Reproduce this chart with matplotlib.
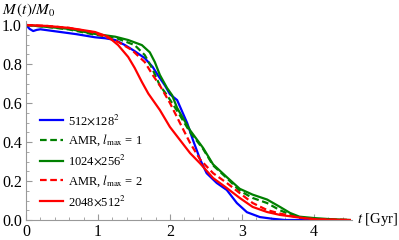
import matplotlib
matplotlib.use("Agg")
import matplotlib.pyplot as plt
import numpy as np

plt.rcParams['font.family'] = ['Liberation Serif', 'DejaVu Serif']
plt.rcParams['mathtext.fontset'] = 'stix'

# mass fraction M(t)/M0 vs time in Gyr
t_512 = [0, 0.05, 0.1, 0.15, 0.2, 0.3, 0.5, 0.7, 0.96, 1.1, 1.24, 1.375, 1.51,
         1.65, 1.76, 1.83, 1.93, 2.0, 2.1, 2.24, 2.32, 2.36, 2.42, 2.51, 2.65,
         2.79, 2.93, 3.07, 3.25, 3.43, 3.6, 4.0]
m_512 = [1.0, 0.98, 0.969, 0.975, 0.978, 0.973, 0.963, 0.953, 0.937, 0.932,
         0.923, 0.897, 0.866, 0.83, 0.785, 0.744, 0.69, 0.645, 0.615, 0.497,
         0.41, 0.37, 0.31, 0.24, 0.19, 0.154, 0.087, 0.04, 0.015, 0.006, 0.0, 0.0]

t_1024 = [0, 0.3, 0.6, 0.96, 1.24, 1.42, 1.61, 1.72, 1.79, 1.86, 1.96, 2.03,
          2.1, 2.28, 2.46, 2.6, 2.79, 2.97, 3.15, 3.35, 3.53, 3.67, 3.8, 4.0,
          4.2, 4.5]
m_1024 = [1.0, 0.99, 0.98, 0.954, 0.94, 0.923, 0.897, 0.86, 0.81, 0.744, 0.677,
          0.64, 0.575, 0.46, 0.37, 0.285, 0.22, 0.16, 0.13, 0.105, 0.067, 0.036,
          0.017, 0.01, 0.005, 0.0]

t_amr1 = [0, 0.3, 0.6, 0.96, 1.24, 1.51, 1.65, 1.75, 1.86, 1.96, 2.1, 2.28,
          2.46, 2.6, 2.79, 2.97, 3.15, 3.35, 3.53, 3.67, 3.8, 4.0, 4.3, 4.5]
m_amr1 = [1.0, 0.99, 0.977, 0.95, 0.935, 0.897, 0.846, 0.78, 0.69, 0.64, 0.56,
          0.45, 0.365, 0.28, 0.215, 0.15, 0.113, 0.087, 0.05, 0.028, 0.013,
          0.006, 0.001, 0.0]

t_2048 = [0, 0.3, 0.6, 0.96, 1.14, 1.28, 1.42, 1.51, 1.61, 1.70, 1.86, 2.0,
          2.14, 2.28, 2.42, 2.6, 2.79, 2.97, 3.15, 3.35, 3.53, 3.85, 4.08, 4.5]
m_2048 = [1.0, 0.995, 0.985, 0.964, 0.94, 0.897, 0.836, 0.78, 0.708, 0.648,
          0.564, 0.477, 0.41, 0.343, 0.29, 0.215, 0.164, 0.113, 0.067, 0.041,
          0.026, 0.01, 0.002, 0.0]

t_amr2 = [0, 0.3, 0.6, 0.9, 1.1, 1.28, 1.47, 1.65, 1.76, 1.86, 2.0, 2.14, 2.28,
          2.42, 2.6, 2.79, 2.97, 3.15, 3.35, 3.53, 3.8, 4.0, 4.5]
m_amr2 = [1.0, 0.995, 0.985, 0.965, 0.94, 0.913, 0.872, 0.81, 0.744, 0.69, 0.60,
          0.497, 0.395, 0.31, 0.24, 0.19, 0.138, 0.087, 0.051, 0.033, 0.012,
          0.004, 0.0]

blue, green, red = (0.0, 0.0, 1.0), (0.0, 0.5, 0.0), (1.0, 0.0, 0.0)

fig = plt.figure(figsize=(3.99, 2.40), dpi=100)
ax = fig.add_axes([26 / 399, 20 / 240, 326 / 399, 1.02 * 195 / 240])

lw = 1.6
dash = (0, (3, 1.6))
ax.plot(t_512, m_512, color=blue, lw=lw, label=r'512$\times$128$^2$')
ax.plot(t_amr1, m_amr1, color=green, lw=lw, ls=dash,
        label=r'AMR, $l_{\mathrm{max}}$ = 1')
ax.plot(t_1024, m_1024, color=green, lw=lw, label=r'1024$\times$256$^2$')
ax.plot(t_amr2, m_amr2, color=red, lw=lw, ls=dash,
        label=r'AMR, $l_{\mathrm{max}}$ = 2')
ax.plot(t_2048, m_2048, color=red, lw=lw, label=r'2048$\times$512$^2$')

ax.set_xlim(0, 4.53)
ax.set_ylim(0, 1.02)
ax.set_xticks([0, 1, 2, 3, 4])
ax.set_xticklabels(['0', '1', '2', '3', '4'])
ax.set_yticks([0, 0.2, 0.4, 0.6, 0.8, 1.0])
ax.set_yticklabels(['0.0', '0.2', '0.4', '0.6', '0.8', '1.0'])
ax.set_xticks(np.arange(0, 4.6, 0.2), minor=True)
ax.set_yticks(np.arange(0, 1.01, 0.05), minor=True)
ax.tick_params(which='both', direction='in', color='0.6', labelsize=11.5,
               top=False, right=False)
ax.tick_params(which='major', length=4, width=0.8, pad=3)
ax.tick_params(which='minor', length=2, width=0.6)
for s in ['top', 'right']:
    ax.spines[s].set_visible(False)
for s in ['left', 'bottom']:
    ax.spines[s].set_color('0.6')
    ax.spines[s].set_linewidth(0.8)

fig.text(2 / 399, 1 - 10 / 240, r'$M\,(t)/M_0$', fontsize=11, va='center')
fig.text(357 / 399, 20 / 240, r'$t$ [Gyr]', fontsize=10.5, va='center')

leg = ax.legend(loc='upper left', bbox_to_anchor=(14 / 326, (220 - 113) / (1.02 * 195)),
                frameon=False, fontsize=9, handlelength=1.85, handletextpad=0.4,
                labelspacing=0.4, borderpad=0, borderaxespad=0)

fig.savefig('out.png', dpi=100)
